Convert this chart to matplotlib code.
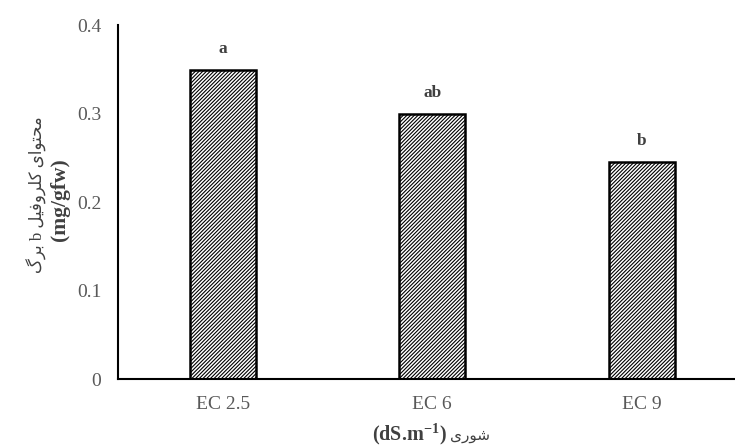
import matplotlib
matplotlib.use("Agg")
import matplotlib.pyplot as plt
import numpy as np

categories = ["EC 2.5", "EC 6", "EC 9"]
values = [0.349, 0.299, 0.245]
letters = ["a", "ab", "b"]
yticks = [0, 0.1, 0.2, 0.3, 0.4]
ytick_labels = ["0", "0.1", "0.2", "0.3", "0.4"]

# Persian words written with presentation forms (logical order), reversed for display
w_mohtava = "\uFEE3\uFEA4\uFE98\uFEEE\uFE8D\uFBFC"
w_chloro = "\uFB90\uFEE0\uFEAE\uFEED\uFED3\uFBFF\uFEDE"
w_barg = "\uFE91\uFEAE\uFB92"
w_shoori = "\uFEB7\uFEEE\uFEAD\uFBFC"


def rtl(*words):
    return " ".join(w[::-1] for w in reversed(words))


ylabel_fa = rtl(w_mohtava, w_chloro, "b", w_barg)
xlabel_fa = w_shoori[::-1]

plt.rcParams["font.family"] = ["Liberation Serif", "DejaVu Sans"]
plt.rcParams["hatch.linewidth"] = 0.8
plt.rcParams["hatch.color"] = "#303030"
plt.rcParams["mathtext.fontset"] = "custom"
plt.rcParams["mathtext.rm"] = "Liberation Serif"
plt.rcParams["mathtext.bf"] = "Liberation Serif:bold"

fig = plt.figure(figsize=(7.35, 4.48), dpi=100)
ax = fig.add_axes([0.1605, 0.154, 0.855, 0.790])

x = np.arange(len(categories))
ax.bar(x, values, width=0.316, color="white", edgecolor="black",
       linewidth=1.8, hatch="/////////", zorder=2)

for xi, v, lab in zip(x, values, letters):
    ax.text(xi, v + 0.015, lab, ha="center", va="bottom", fontsize=12.5,
            fontweight="bold", color="#404040")

ax.set_xlim(-0.5, 2.5)
ax.set_ylim(0, 0.4)
ax.set_xticks(x)
ax.set_xticklabels(categories, fontsize=14, color="#595959")
ax.set_yticks(yticks)
ax.set_yticklabels(ytick_labels, fontsize=14, color="#595959")
ax.tick_params(axis="both", length=0)
ax.tick_params(axis="y", pad=12)
ax.tick_params(axis="x", pad=12)

for s in ["top", "right"]:
    ax.spines[s].set_visible(False)
ax.spines["left"].set_linewidth(1.5)
ax.spines["bottom"].set_linewidth(1.5)

# y label, two lines
fig.text(37 / 735, 1 - 195 / 448, ylabel_fa, rotation=90, ha="center",
         va="center", fontsize=12, color="#404040")
fig.text(60 / 735, 1 - 200 / 448, "(mg/gfw)", rotation=90, ha="center",
         va="center", fontsize=15.5, fontweight="bold", color="#404040")

# x label
fig.text(447 / 735, 1 - 434 / 448, r"$\mathbf{(dS.\!m^{-1})}$", ha="right",
         va="center", fontsize=14.5, color="#404040")
fig.text(450 / 735, 1 - 436 / 448, xlabel_fa, ha="left", va="center",
         fontsize=11, color="#404040")

fig.savefig("out.png", dpi=100)
